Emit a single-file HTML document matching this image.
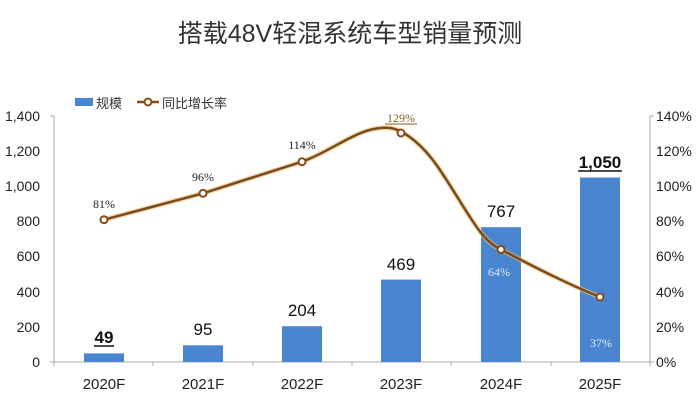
<!DOCTYPE html>
<html><head><meta charset="utf-8"><style>
body{margin:0;background:#fff;width:700px;height:409px;overflow:hidden}
text{font-family:"Liberation Sans","Noto Sans CJK SC",sans-serif}
</style></head><body>
<svg width="700" height="409" xmlns="http://www.w3.org/2000/svg">
<text x="350" y="42" text-anchor="middle" font-size="25" fill="#333">搭载48V轻混系统车型销量预测</text>
<rect x="75" y="98" width="18" height="8" fill="#4a86cf"/>
<text x="96" y="108" font-size="13" fill="#333">规模</text>
<line x1="137" y1="102" x2="159" y2="102" stroke="#8a4a14" stroke-width="2.5"/>
<circle cx="148" cy="102" r="3.5" fill="#fff" stroke="#8a4a14" stroke-width="2"/>
<text x="162" y="108" font-size="13" fill="#333">同比增长率</text>
<g font-size="14" fill="#222" text-anchor="end">
<text x="40" y="367">0</text><text x="40" y="332">200</text><text x="40" y="297">400</text><text x="40" y="261">600</text><text x="40" y="226">800</text><text x="40" y="191">1,000</text><text x="40" y="156">1,200</text><text x="40" y="121">1,400</text>
</g>
<g font-size="14" fill="#222">
<text x="656" y="367">0%</text><text x="656" y="332">20%</text><text x="656" y="297">40%</text><text x="656" y="261">60%</text><text x="656" y="226">80%</text><text x="656" y="191">100%</text><text x="656" y="156">120%</text><text x="656" y="121">140%</text>
</g>
<g stroke="#aaa" stroke-width="1">
<line x1="54" y1="116" x2="54" y2="366"/><line x1="650" y1="116" x2="650" y2="366"/>
<line x1="50" y1="362" x2="654" y2="362"/>
<line x1="50" y1="116" x2="54" y2="116"/><line x1="650" y1="116" x2="654" y2="116"/>
<line x1="153" y1="362" x2="153" y2="366"/><line x1="253" y1="362" x2="253" y2="366"/><line x1="352" y1="362" x2="352" y2="366"/><line x1="451" y1="362" x2="451" y2="366"/><line x1="551" y1="362" x2="551" y2="366"/>
</g>
<g fill="#4a86cf">
<rect x="84" y="353.4" width="40" height="8.6"/>
<rect x="183" y="345.3" width="40" height="16.7"/>
<rect x="282" y="326.2" width="40" height="35.8"/>
<rect x="381" y="279.6" width="40" height="82.4"/>
<rect x="481" y="227.2" width="40" height="134.8"/>
<rect x="580" y="177.5" width="40" height="184.5"/>
</g>
<g font-size="17" fill="#111" text-anchor="middle">
<text x="104" y="343" font-weight="bold">49</text>
<line x1="94" y1="346" x2="114" y2="346" stroke="#111" stroke-width="1.5"/>
<text x="203" y="335">95</text><text x="302" y="316">204</text><text x="401" y="270">469</text><text x="501" y="217">767</text>
<text x="600" y="168" font-weight="bold">1,050</text>
<line x1="578" y1="171" x2="622" y2="171" stroke="#111" stroke-width="1.5"/>
</g>
<path d="M104,219.7 C137,211 170,202 203,193.3 C236,183 269,172 302,161.7 C335,150 360,125 390,128 C400,129 420,140 440,170 C470,215 480,240 501,249.5 C540,270 570,285 600,297" fill="none" stroke="#f0c070" stroke-width="5" opacity="0.6"/>
<path d="M104,219.7 C137,211 170,202 203,193.3 C236,183 269,172 302,161.7 C335,150 360,125 390,128 C400,129 420,140 440,170 C470,215 480,240 501,249.5 C540,270 570,285 600,297" fill="none" stroke="#7a4a20" stroke-width="2.5"/>
<g fill="#fff" stroke="#8a4a14" stroke-width="2">
<circle cx="104" cy="219.7" r="3.5"/><circle cx="203" cy="193.3" r="3.5"/><circle cx="302" cy="161.7" r="3.5"/><circle cx="401" cy="133" r="3.5"/><circle cx="501" cy="249.5" r="3.5"/><circle cx="600" cy="297" r="3.5"/>
</g>
<g font-size="12" text-anchor="middle" fill="#222">
<text x="104" y="208" style="font-family:'Liberation Serif',serif">81%</text>
<text x="203" y="181" style="font-family:'Liberation Serif',serif">96%</text>
<text x="302" y="149" style="font-family:'Liberation Serif',serif">114%</text>
<text x="401" y="122" fill="#8a5a20" style="font-family:'Liberation Serif',serif">129%</text>
<line x1="385" y1="124" x2="417" y2="124" stroke="#8a5a20" stroke-width="1"/>
<text x="499" y="276" fill="#dbe8fb" style="font-family:'Liberation Serif',serif">64%</text>
<text x="601" y="347" fill="#dbe8fb" style="font-family:'Liberation Serif',serif">37%</text>
</g>
<g font-size="15" fill="#222" text-anchor="middle">
<text x="104" y="389">2020F</text><text x="203" y="389">2021F</text><text x="302" y="389">2022F</text><text x="401" y="389">2023F</text><text x="501" y="389">2024F</text><text x="600" y="389">2025F</text>
</g>
</svg>
</body></html>
